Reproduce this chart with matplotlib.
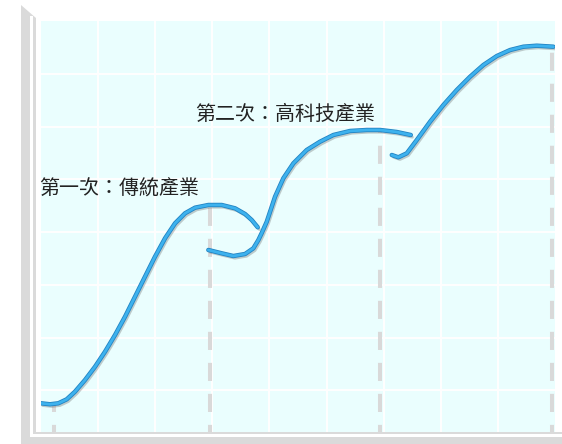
import matplotlib
matplotlib.use('Agg')
import matplotlib.pyplot as plt
import matplotlib.patheffects as pe
from matplotlib.patches import Rectangle, Polygon

plt.rcParams['font.family'] = ['Noto Sans CJK TC', 'DejaVu Sans']

# curve data (x in grid columns, y in grid rows)
c1x = [0.000, 0.158, 0.303, 0.450, 0.595, 0.770, 0.946, 1.121, 1.296, 1.471, 1.646, 1.821,
       1.996, 2.172, 2.347, 2.522, 2.697, 2.930, 3.165, 3.398, 3.573, 3.690, 3.795]
c1y = [0.753, 0.734, 0.753, 0.828, 0.973, 1.194, 1.446, 1.731, 2.047, 2.394, 2.773, 3.153,
       3.532, 3.881, 4.165, 4.355, 4.461, 4.512, 4.512, 4.449, 4.341, 4.227, 4.089]

c2x = [2.930, 3.165, 3.368, 3.573, 3.718, 3.806, 3.865, 3.953, 4.098, 4.243, 4.419, 4.653,
       4.886, 5.119, 5.412, 5.704, 5.937, 6.229, 6.475]
c2y = [3.659, 3.596, 3.545, 3.583, 3.691, 3.848, 3.981, 4.195, 4.669, 5.018, 5.302, 5.555,
       5.712, 5.839, 5.915, 5.934, 5.934, 5.896, 5.839]

c3x = [6.142, 6.257, 6.405, 6.580, 6.813, 7.046, 7.280, 7.513, 7.746, 7.981, 8.214, 8.447,
       8.681, 8.972]
c3y = [5.460, 5.416, 5.492, 5.744, 6.091, 6.408, 6.692, 6.944, 7.166, 7.336, 7.450, 7.513,
       7.532, 7.513]

# dashed drop lines: x position and top
drop_x = [0.23, 2.96, 5.94, 8.95]
drop_top = [0.74, 4.51, 5.93, 7.50]

labels = ['第一次：傳統產業', '第二次：高科技產業']
label_x = [-0.04, 2.70]
label_y = [4.83, 6.22]

W, H = 562, 444
fig = plt.figure(figsize=(W / 100, H / 100), dpi=100)
ax = fig.add_axes([41 / W, 1 / H, 514 / W, 422 / H])
ax.set_facecolor('#eafefe')
ax.set_xlim(0, 9)
ax.set_ylim(0, 8)
for s in ax.spines.values():
    s.set_visible(False)
ax.set_xticks(range(1, 9))
ax.set_yticks(range(1, 8))
ax.tick_params(length=0, labelbottom=False, labelleft=False)
ax.grid(color='white', lw=1.4)
ax.set_axisbelow(True)

for x, t in zip(drop_x, drop_top):
    ax.plot([x, x], [0, t], color='#d9d9d9', lw=2.9,
            linestyle=(0, (4.5, 3.2)), solid_capstyle='butt', zorder=2)

effects = [pe.SimpleLineShadow(offset=(1.2, -1.6), shadow_color='#555555', alpha=0.3),
           pe.Stroke(linewidth=3.2, foreground='#2283c2'),
           pe.Normal()]
for xs, ys in [(c1x, c1y), (c2x, c2y), (c3x, c3y)]:
    ax.plot(xs, ys, color='#3db2ee', lw=2.0, solid_capstyle='round',
            solid_joinstyle='round', path_effects=effects, zorder=3)

for t, x, y in zip(labels, label_x, label_y):
    ax.text(x, y, t, fontsize=14.4, color='#222222', ha='left', va='center',
            zorder=4, clip_on=False)

# left wall and floor
def px(x0, y0):
    return (x0 / W, 1 - y0 / H)

fig.add_artist(Polygon([px(21, 5), px(36, 18), px(36, 444), px(21, 444)],
                       closed=True, transform=fig.transFigure,
                       facecolor='#dadada', edgecolor='none', zorder=5))
fig.add_artist(Rectangle(px(21, 444), 541 / W, 12 / H, transform=fig.transFigure,
                         facecolor='#dadada', edgecolor='none', zorder=5))
fig.add_artist(Rectangle(px(30, 436), 3 / W, 420 / H, transform=fig.transFigure,
                         facecolor='white', edgecolor='none', zorder=6))
fig.add_artist(Rectangle(px(30, 437), 532 / W, 3 / H, transform=fig.transFigure,
                         facecolor='white', edgecolor='none', zorder=6))

fig.savefig('out.png', dpi=100)
